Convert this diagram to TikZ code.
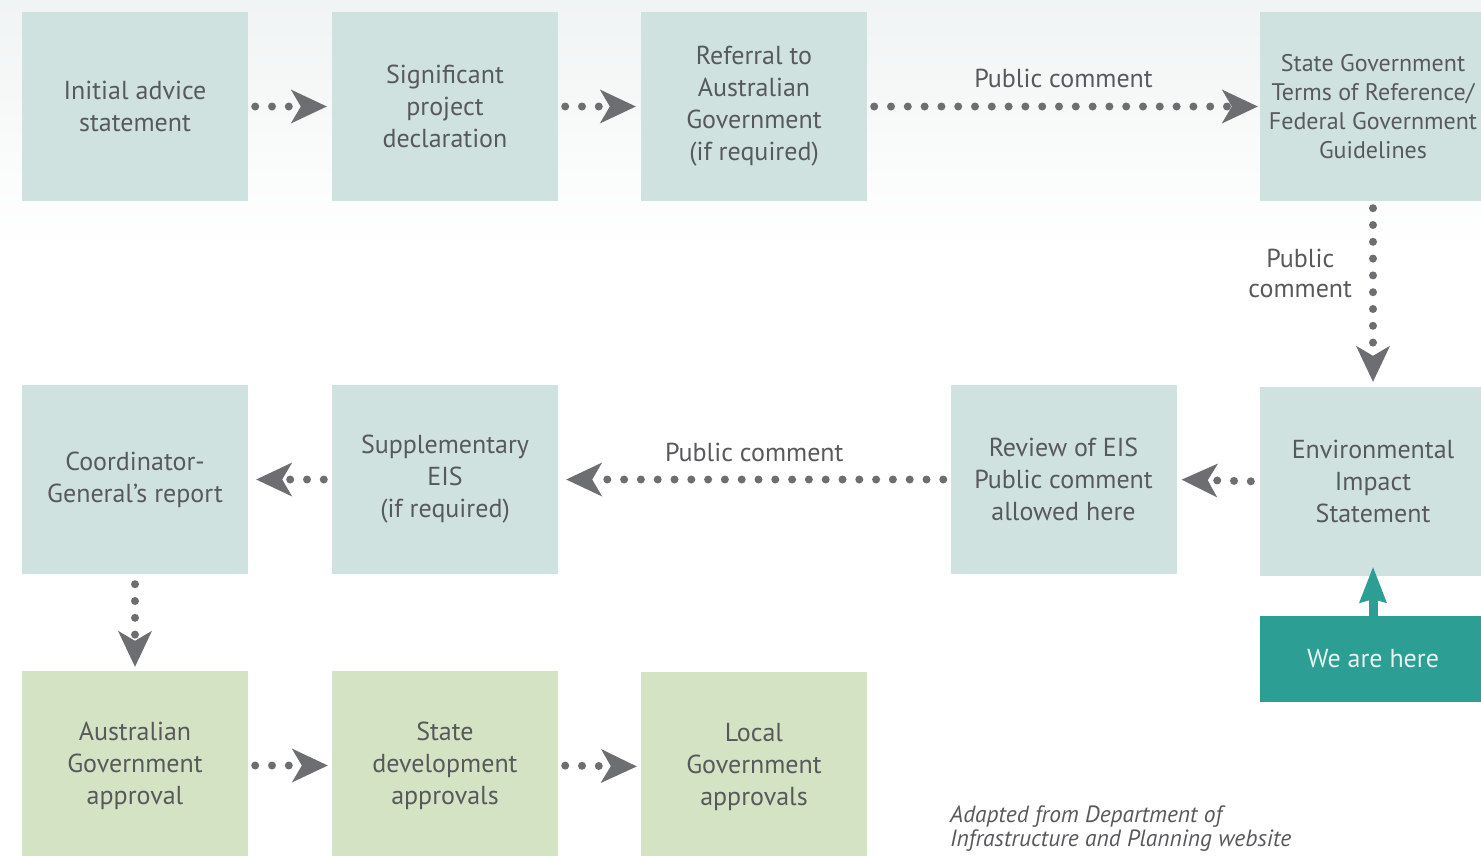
\documentclass[tikz,border=0pt]{standalone}
\usepackage{fontspec}
\setmainfont{PT Sans}
\usetikzlibrary{arrows.meta}
\definecolor{boxblue}{HTML}{CFE2DF}
\definecolor{boxgreen}{HTML}{D3E3C3}
\definecolor{textgrey}{HTML}{58595B}
\definecolor{arrowgrey}{HTML}{6D6E71}
\definecolor{hereteal}{HTML}{2C9E93}
\definecolor{heretext}{HTML}{E6F3F1}
\definecolor{bgtop}{HTML}{F1F4F4}
\tikzset{
  stage/.style={fill=boxblue, minimum width=226pt, minimum height=189pt, inner sep=0pt,
    align=center, text=textgrey, font=\fontsize{26}{32}\selectfont},
  approval/.style={stage, fill=boxgreen},
  flow/.style={draw=arrowgrey, line width=8pt, line cap=round, dash pattern=on 0pt off 16.8pt,
    -{Stealth[length=36pt,width=34pt,inset=10pt,line width=0pt]}},
  note/.style={text=textgrey, inner sep=0pt, align=center, font=\fontsize{26}{30}\selectfont}
}
\begin{document}
\begin{tikzpicture}[x=1pt,y=-1pt]
\useasboundingbox (0,0) rectangle (1481,855);
\clip (0,0) rectangle (1481,855);
\shade[top color=bgtop, bottom color=white] (0,0) rectangle (1481,250);
% first row
\node[stage] (ias) at (135,106.5) {Initial advice\\statement};
\node[stage] (spd) at (445,106.5) {Significant\\project\\declaration};
\node[stage] (ref) at (754,106.5) {Referral to\\Australian\\Government\\(if required)};
\node[stage, font=\fontsize{24}{29}\selectfont] (sgt) at (1373,106.5)
  {State Government\\Terms of Reference/\\Federal Government\\Guidelines};
% second row
\node[stage] (eis) at (1373,481.5) {Environmental\\Impact\\Statement};
\node[stage] (rev) at (1063.5,479.5) {Review of EIS\\Public comment\\allowed here};
\node[stage] (sup) at (445,479.5) {Supplementary\\EIS\\(if required)};
\node[stage] (cgr) at (135,479.5) {Coordinator-\\General’s report};
% approvals
\node[approval] (aga) at (135,765.5) {Australian\\Government\\approval};
\node[approval] (sda) at (445,765.5) {State\\development\\approvals};
\node[approval] (lga) at (754,766.5) {Local\\Government\\approvals};
\node[fill=hereteal, minimum width=226pt, minimum height=86pt, inner sep=0pt,
  text=heretext, font=\fontsize{26}{30}\selectfont] (here) at (1373,659) {We are here};

\draw[flow, shorten <=7pt, shorten >=5pt] (ias.east) -- (spd.west);
\draw[flow, shorten <=7pt, shorten >=5pt] (spd.east) -- (ref.west);
\draw[flow, shorten <=7pt, shorten >=2pt] (ref.east) -- node[note, above=15pt] {Public comment} (sgt.west);
\draw[flow, shorten <=7pt, shorten >=5pt] (sgt.south) -- node[note, pos=0.39, left=17pt] {Public\\comment} (eis.north);
\draw[flow, shorten <=9pt, shorten >=5pt] (eis.west) -- (rev.east);
\draw[flow, shorten <=7pt, shorten >=8pt] (rev.west) -- node[note, above=14pt] {Public comment} (sup.east);
\draw[flow, shorten <=8pt, shorten >=8pt] (sup.west) -- (cgr.east);
\draw[flow, shorten <=10pt, shorten >=4pt] (cgr.south) -- (aga.north);
\draw[flow, shorten <=7pt, shorten >=4pt] (aga.east) -- (sda.west);
\draw[flow, shorten <=7pt, shorten >=4pt] (sda.east) -- (lga.west);
\draw[hereteal, line width=9pt, -{Stealth[length=36pt,width=28pt,inset=4pt,line width=0pt]},
  shorten >=-9pt] (here.north) -- (eis.south);

\node[text=textgrey, inner sep=0pt, anchor=north west, align=left,
  font=\fontsize{23.5}{24}\itshape] (src) at (950,806)
  {Adapted from Department of\\Infrastructure and Planning website};
\end{tikzpicture}
\end{document}
